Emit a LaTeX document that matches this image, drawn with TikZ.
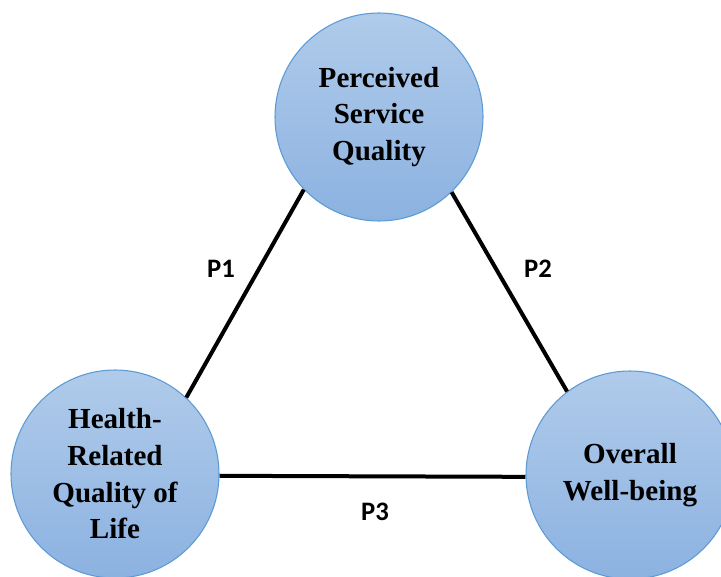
\documentclass[tikz,border=0pt]{standalone}
\usepackage{fontspec}
\setmainfont{Liberation Serif}
\newfontfamily\pfont{Carlito}
\usepackage{xcolor}
\definecolor{CircTop}{HTML}{B0CBEA}
\definecolor{CircBot}{HTML}{8CB2E1}
\definecolor{CircEdge}{HTML}{5B9BD5}
\tikzset{
  cnode/.style={circle, draw=CircEdge, line width=0.8pt, top color=CircTop,
    bottom color=CircBot, minimum size=156pt, inner sep=0pt, align=center,
    font=\fontsize{21.8}{27.5}\selectfont\bfseries},
  link/.style={line width=3pt, draw=black},
  plabel/.style={font=\pfont\fontsize{20}{22}\selectfont\bfseries},
}
\begin{document}
\begin{tikzpicture}[x=0.75pt, y=0.75pt]
    \useasboundingbox (0,0) rectangle (721,576);
    \node[cnode] (psq) at (379,459) {Perceived\\Service\\Quality};
    \node[cnode] (hrq) at (115,102) {Health-\\Related\\Quality of\\Life};
    \node[cnode] (owb) at (630,101) {Overall\\Well-being};
    \draw[link] (hrq.47) -- (psq.224);
    \draw[link] (psq.314) -- (owb.127);
    \draw[link] (hrq.-1.5) -- (owb.181);
    \node[plabel] (p1) at (221,307) {P1};
    \node[plabel] (p2) at (538,307) {P2};
    \node[plabel] (p3) at (375,64) {P3};
  \end{tikzpicture}
\end{document}
